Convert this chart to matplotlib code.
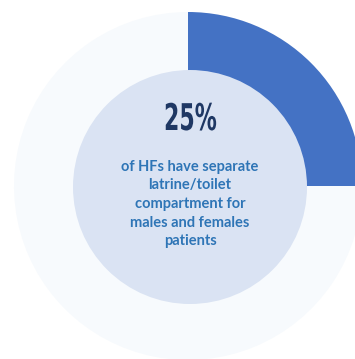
import matplotlib.pyplot as plt
from matplotlib.patches import Circle
from matplotlib import patheffects
from matplotlib.transforms import Affine2D

# share of HFs with separate latrine/toilet compartments
labels = ["Separate compartment", "No separate compartment"]
values = [25, 75]
colors = ["#4472C4", "#F7FAFD"]
headline = "25%"
caption = "of HFs have separate\nlatrine/toilet\ncompartment for\nmales and females\npatients"


class Squeeze(patheffects.AbstractPathEffect):
    """Narrow the glyphs horizontally (no condensed font installed)."""

    def __init__(self, sx):
        super().__init__()
        self.sx = sx

    def draw_path(self, renderer, gc, tpath, affine, rgbFace=None):
        renderer.draw_path(gc, tpath, Affine2D().scale(self.sx, 1) + affine, rgbFace)


fig = plt.figure(figsize=(3.55, 3.59), dpi=100)
ax = fig.add_axes([0, 0, 1, 1])

ax.pie(
    values,
    colors=colors,
    radius=174,
    startangle=90,
    counterclock=False,
    wedgeprops=dict(width=64, linewidth=0),
)
ax.add_patch(Circle((2, -1), 117, facecolor="#DAE3F3", edgecolor="none"))

ax.text(-24, 56, headline, ha="left", va="baseline", fontsize=26.5,
        fontweight="bold", family="DejaVu Sans", color="#1F3864",
        path_effects=[Squeeze(0.6)])
ax.text(2, -18, caption, ha="center", va="center", fontsize=10.5,
        fontweight="bold", family="Lato", color="#2E75B6", linespacing=1.42)

ax.set_xlim(-188, 167)
ax.set_ylim(-173, 186)
ax.set_aspect("equal")
ax.axis("off")

plt.savefig("out.png", dpi=100)
